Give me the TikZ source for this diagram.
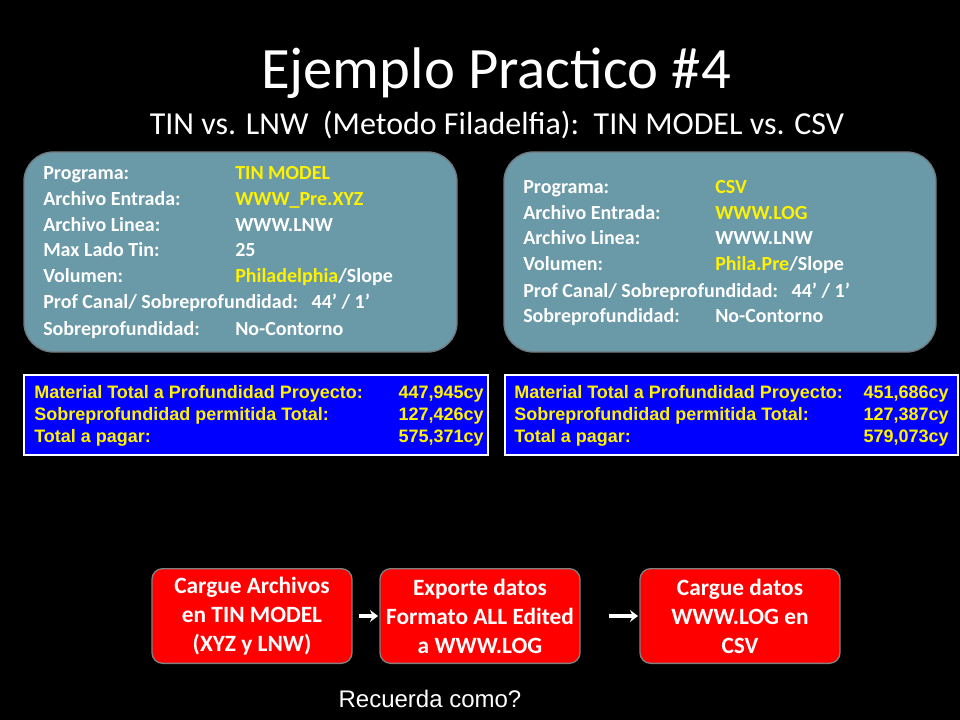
\documentclass[tikz,border=0pt]{standalone}
\usepackage{fontspec}
\setmainfont{Carlito}
\newfontfamily\arial{Liberation Sans}
\usetikzlibrary{arrows.meta}
\begin{document}
\begin{tikzpicture}[x=0.75pt,y=-0.75pt,
  tealbox/.style={draw=black!70!cyan!40!gray,line width=1pt,fill={rgb,255:red,106;green,153;blue,168},rounded corners=22pt},
  bluebox/.style={draw=white,line width=0.8pt,fill={rgb,255:red,0;green,0;blue,255}},
  redbox/.style={draw=gray,line width=1pt,fill=red,rounded corners=8pt,minimum width=150pt,minimum height=71pt,inner sep=2pt,align=center,font=\fontsize{17.5}{21.8}\selectfont\bfseries,text=white},
  lbl/.style={anchor=base west,text=white,font=\fontsize{15}{17}\selectfont\bfseries,inner sep=0pt},
  val/.style={anchor=base west,text=white,font=\fontsize{15}{17}\selectfont\bfseries,inner sep=0pt},
  bl/.style={anchor=base west,text=yellow,font=\arial\fontsize{13.5}{15}\selectfont\bfseries,inner sep=0pt},
  br/.style={anchor=base east,text=yellow,font=\arial\fontsize{13.5}{15}\selectfont\bfseries,inner sep=0pt},
  arr/.style={draw=white,line width=2.5pt,-{Stealth[length=6pt,width=9pt]},shorten >=1pt}]
\fill[black] (0,0) rectangle (960,720);
\node[text=white,font=\fontsize{44}{48}\selectfont] (title) at (496,73) {Ejemplo Practico \#4};
\node[text=white,font=\fontsize{24}{28}\selectfont] (sub) at (497,125) {TIN vs. LNW\ \ (Metodo Filadelfia):\ \ TIN MODEL vs. CSV};
% teal boxes
\draw[tealbox] (24,152) rectangle (457,352);
\draw[tealbox] (504,152) rectangle (936,352);
\node[lbl] (a1) at (43,180) {Programa:};
\node[val,text=yellow] (b1) at (235,180) {TIN MODEL};
\node[lbl] (a2) at (43,206) {Archivo Entrada:};
\node[val,text=yellow] (b2) at (235,206) {WWW\_Pre.XYZ};
\node[lbl] (a3) at (43,232) {Archivo Linea:};
\node[val] (b3) at (235,232) {WWW.LNW};
\node[lbl] (a4) at (43,257) {Max Lado Tin:};
\node[val] (b4) at (235,257) {25};
\node[lbl] (a5) at (43,283) {Volumen:};
\node[val] (b5) at (235,283) {\textcolor{yellow}{Philadelphia}/Slope};
\node[lbl] (a6) at (43,309) {Prof Canal/ Sobreprofundidad:\ \ \ 44’ / 1’};
\node[lbl] (a7) at (43,335) {Sobreprofundidad:};
\node[val] (b7) at (235,335) {No-Contorno};
\node[lbl] (c1) at (523,194) {Programa:};
\node[val,text=yellow] (d1) at (715,194) {CSV};
\node[lbl] (c2) at (523,220) {Archivo Entrada:};
\node[val,text=yellow] (d2) at (715,220) {WWW.LOG};
\node[lbl] (c3) at (523,245) {Archivo Linea:};
\node[val] (d3) at (715,245) {WWW.LNW};
\node[lbl] (c4) at (523,271) {Volumen:};
\node[val] (d4) at (715,271) {\textcolor{yellow}{Phila.Pre}/Slope};
\node[lbl] (c5) at (523,297) {Prof Canal/ Sobreprofundidad:\ \ \ 44’ / 1’};
\node[lbl] (c6) at (523,322) {Sobreprofundidad:};
\node[val] (d6) at (715,322) {No-Contorno};
% blue boxes
\draw[bluebox] (24,375) rectangle (488,455);
\draw[bluebox] (505,375) rectangle (958,455);
\node[bl] (e1) at (34,398) {Material Total a Profundidad Proyecto:};
\node[br] (f1) at (484,398) {447,945cy};
\node[bl] (e2) at (34,420) {Sobreprofundidad permitida Total:};
\node[br] (f2) at (484,420) {127,426cy};
\node[bl] (e3) at (34,442) {Total a pagar:};
\node[br] (f3) at (484,442) {575,371cy};
\node[bl] (g1) at (514,398) {Material Total a Profundidad Proyecto:};
\node[br] (h1) at (949,398) {451,686cy};
\node[bl] (g2) at (514,420) {Sobreprofundidad permitida Total:};
\node[br] (h2) at (949,420) {127,387cy};
\node[bl] (g3) at (514,442) {Total a pagar:};
\node[br] (h3) at (949,442) {579,073cy};
% red boxes
\node[redbox] (r1) at (252,616) {Cargue Archivos\\en TIN MODEL\\(XYZ y LNW)};
\node[redbox] (r2) at (480,616) {Exporte datos\\Formato ALL Edited\\a WWW.LOG};
\node[redbox] (r3) at (740,616) {Cargue datos\\WWW.LOG en\\CSV};
\draw[arr,shorten <=5pt] (r1.east) -- (r2.west);
\draw[arr,shorten <=21pt] (r2.east) -- (r3.west);
\node[text=white,font=\arial\fontsize{18}{20}\selectfont] (rc) at (430,699) {Recuerda como?};
\end{tikzpicture}
\end{document}
